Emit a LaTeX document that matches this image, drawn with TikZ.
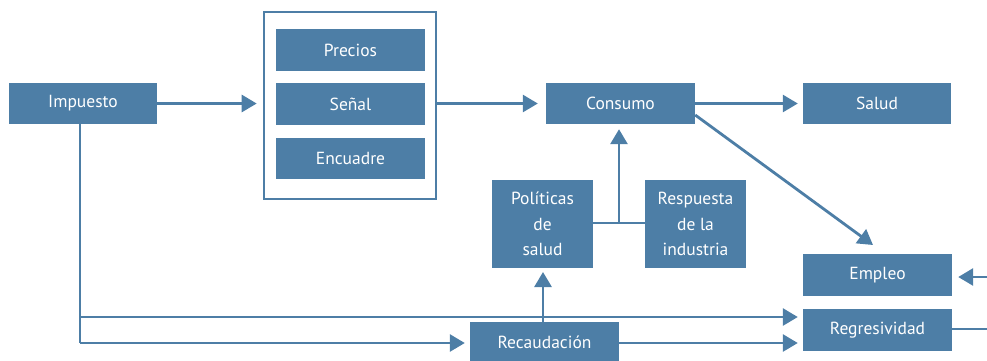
\documentclass[tikz,border=0pt]{standalone}
\usepackage{fontspec}
\setmainfont{PT Sans}
\usetikzlibrary{arrows.meta}
\definecolor{boxblue}{HTML}{4D7EA6}
\begin{document}
\begin{tikzpicture}[x=1pt,y=-1pt,
  box/.style={fill=boxblue,draw=none,text=white,inner sep=0pt,align=center,font=\fontsize{17.5}{25.5}\selectfont},
  conn/.style={draw=boxblue,line width=2.8pt},
  arr/.style={conn,-{Triangle[length=15pt,width=17pt]}}]
\useasboundingbox (0,0) rectangle (987,360);
\begin{scope}
\clip (0,0) rectangle (987,360);
\node[box,minimum width=148pt,minimum height=41pt] (imp) at (83,103.5) {Impuesto};
\node[draw=boxblue,line width=2.6pt,minimum width=172pt,minimum height=187pt,inner sep=0pt] (frame) at (350,105.5) {};
\node[box,minimum width=149pt,minimum height=42pt] (pre) at (350.5,50) {Precios};
\node[box,minimum width=149pt,minimum height=42pt] (sen) at (350.5,104) {Señal};
\node[box,minimum width=149pt,minimum height=41pt] (enc) at (350.5,158.5) {Encuadre};
\node[box,minimum width=149pt,minimum height=41pt] (con) at (620.5,103.5) {Consumo};
\node[box,minimum width=148pt,minimum height=41pt] (sal) at (877,103.5) {Salud};
\node[box,minimum width=101pt,minimum height=88pt] (pol) at (542.5,224) {Políticas\\de\\salud};
\node[box,minimum width=101pt,minimum height=88pt] (res) at (695.5,224) {Respuesta\\de la\\industria};
\node[box,minimum width=149pt,minimum height=42pt] (emp) at (877.5,275) {Empleo};
\node[box,minimum width=149pt,minimum height=42pt] (reg) at (877.5,330) {Regresividad};
\node[box,minimum width=149pt,minimum height=40pt] (rec) at (544.5,342) {Recaudación};

\coordinate (j) at (619,223);
\coordinate (lft) at (80,124);
\coordinate (rin) at (987,277);
\coordinate (rout) at (987,329);

\draw[arr,shorten >=6pt] (imp.east) -- (frame.west |- imp.east);
\draw[arr,shorten >=8pt] (frame.east |- con.west) -- (con.west);
\draw[arr,shorten >=5pt] (con.east) -- (sal.west);
\draw[arr] (con.east |- 0,115) -- (873,245);
\draw[conn] (pol.east |- j) -- (res.west |- j);
\draw[arr,shorten >=5pt] (j) -- (j |- con.south);
\draw[arr,shorten >=4pt] (543,322) -- (543,268);
\draw[conn] (lft) -- (80,343);
\draw[arr,shorten >=5pt] (80,317) -- (reg.west |- 0,317);
\draw[arr,shorten >=5pt] (80,343) -- (rec.west |- 0,343);
\draw[arr,shorten >=5pt] (rec.east |- 0,343) -- (reg.west |- 0,343);
\draw[arr,shorten >=6pt] (rin) -- (emp.east |- rin);
\draw[conn] (reg.east |- rout) -- (rout);
\end{scope}
\end{tikzpicture}
\end{document}
